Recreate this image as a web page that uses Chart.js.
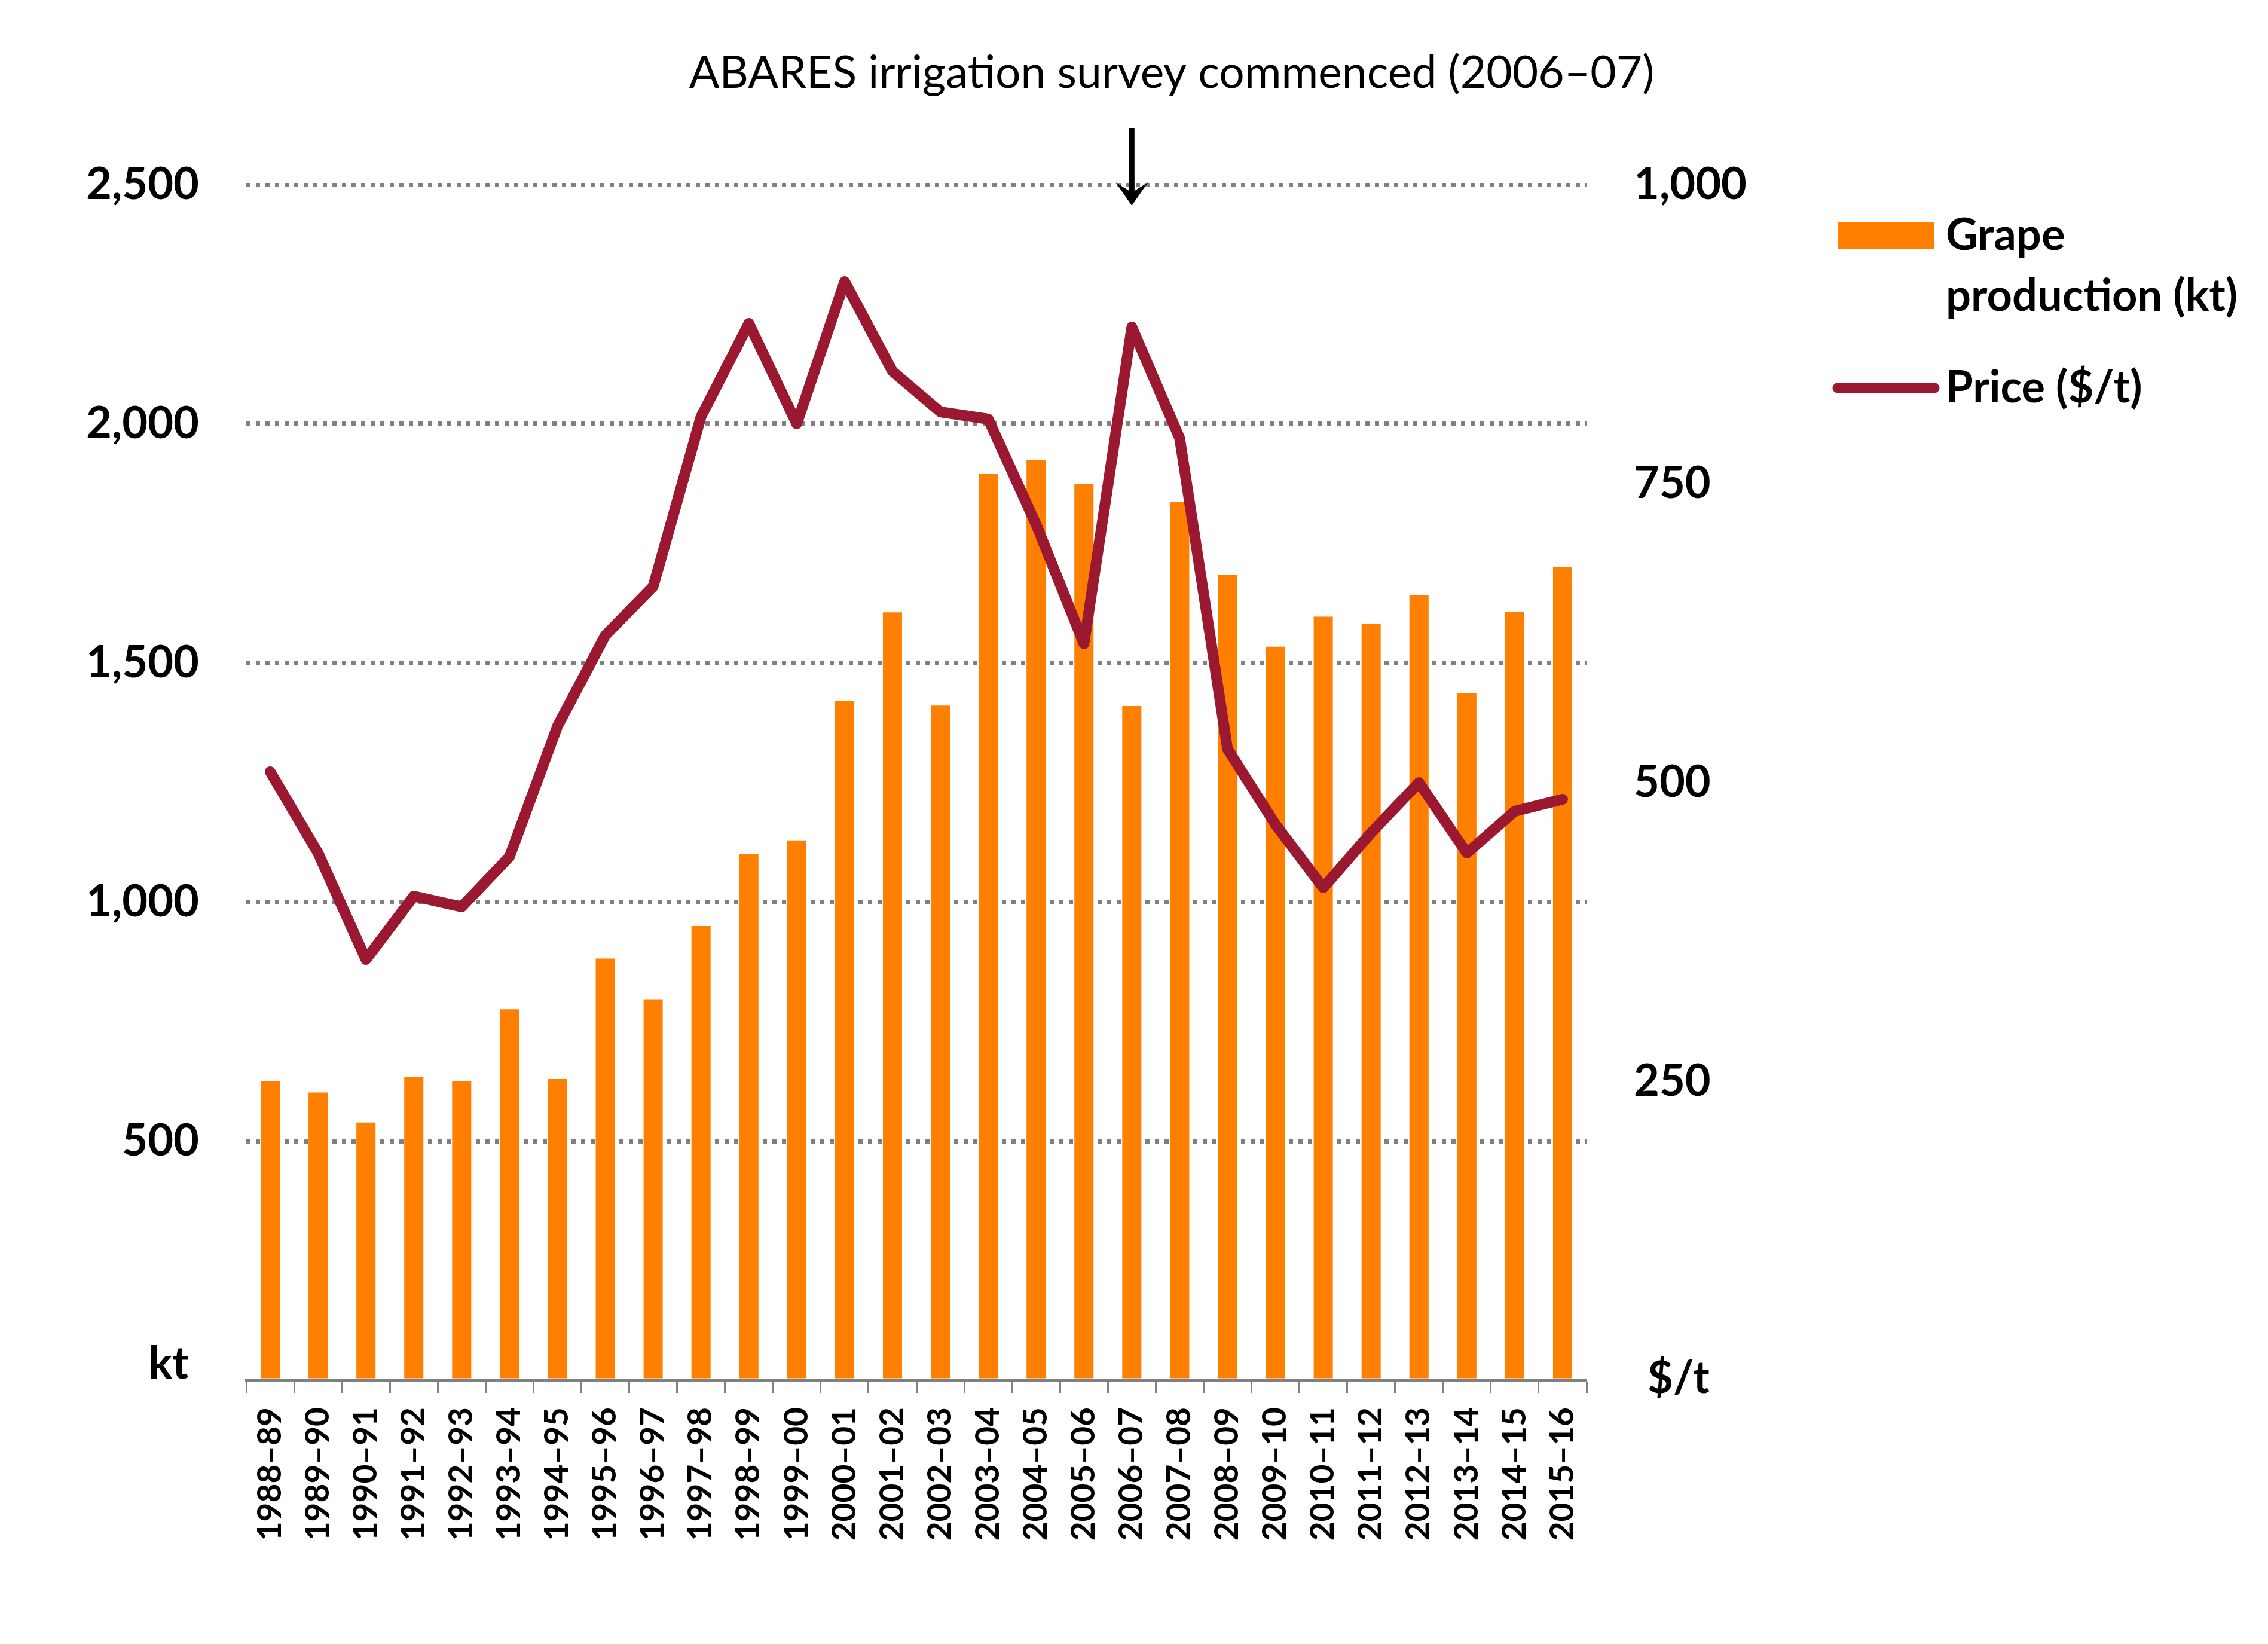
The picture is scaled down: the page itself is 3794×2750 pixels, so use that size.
<!DOCTYPE html>
<html>
<head>
<meta charset="utf-8">
<script src="https://cdn.jsdelivr.net/npm/chart.js@4.4.1/dist/chart.umd.min.js"></script>
<style>
    html, body { margin: 0; padding: 0; background: #fff; }
    #wrap { width: 3794px; height: 2750px; }
</style>
</head>
<body>
<div id="wrap"><canvas id="chart" width="3794" height="2750"></canvas></div>
<script>
const categories = ['1988–89', '1989–90', '1990–91', '1991–92', '1992–93', '1993–94', '1994–95',
    '1995–96', '1996–97', '1997–98', '1998–99', '1999–00', '2000–01', '2001–02', '2002–03',
    '2003–04', '2004–05', '2005–06', '2006–07', '2007–08', '2008–09', '2009–10', '2010–11',
    '2011–12', '2012–13', '2013–14', '2014–15', '2015–16'];

const production = [625, 602, 539, 635, 626, 776, 630, 882, 797, 950, 1101, 1129, 1421, 1606,
    1411, 1895, 1925, 1874, 1410, 1837, 1684, 1534, 1597, 1582, 1642, 1437, 1607, 1701];

const price = [509, 441, 352, 405, 396, 438, 547, 623, 664, 806, 884, 800, 919, 844, 810, 804,
    716, 616, 881, 788, 528, 465, 412, 458, 500, 441, 476, 486];

const leftTicks = [0, 500, 1000, 1500, 2000, 2500];
const rightTicks = [0, 250, 500, 750, 1000];

const annotationText = 'ABARES irrigation survey commenced (2006–07)';
const annotationCategory = '2006–07';

const ORANGE = '#FF7F00';
const WINE = '#9A1830';
const GREY = '#808080';
const FONT = 'Lato, "Open Sans", sans-serif';

const overlay = {
    id: 'overlay',
    afterDraw(chart) {
        const ctx = chart.ctx;
        const x = chart.scales.x;

        ctx.save();
        ctx.fillStyle = '#000';
        ctx.strokeStyle = '#000';

        // annotation + arrow
        ctx.font = '400 75px ' + FONT;
        ctx.textAlign = 'center';
        ctx.textBaseline = 'alphabetic';
        ctx.fillText(annotationText, 1960, 147);

        const ax = x.getPixelForValue(categories.indexOf(annotationCategory));
        ctx.lineWidth = 9;
        ctx.beginPath();
        ctx.moveTo(ax, 214);
        ctx.lineTo(ax, 330);
        ctx.stroke();
        ctx.beginPath();
        ctx.moveTo(ax, 344);
        ctx.lineTo(ax - 27, 305);
        ctx.lineTo(ax, 322);
        ctx.lineTo(ax + 27, 305);
        ctx.closePath();
        ctx.fill();

        // axis units
        ctx.font = '700 74px ' + FONT;
        ctx.textAlign = 'center';
        ctx.fillText('kt', 282, 2306);
        ctx.textAlign = 'left';
        ctx.fillText('$/t', 2756, 2330);

        // legend
        const ds = chart.data.datasets;
        const bar = ds.find(d => d.type === 'bar');
        const line = ds.find(d => d.type === 'line');

        ctx.fillStyle = bar.backgroundColor;
        ctx.fillRect(3075, 371, 160, 46);
        ctx.fillStyle = '#000';
        ctx.fillText('Grape', 3255, 418);
        ctx.fillText('production (kt)', 3255, 520);

        ctx.strokeStyle = line.borderColor;
        ctx.lineWidth = 17;
        ctx.lineCap = 'round';
        ctx.beginPath();
        ctx.moveTo(3074, 649);
        ctx.lineTo(3236, 649);
        ctx.stroke();
        ctx.fillText(line.label, 3255, 673);

        ctx.restore();
    }
};

new Chart(document.getElementById('chart'), {
    data: {
        labels: categories,
        datasets: [
            {
                type: 'line',
                label: 'Price ($/t)',
                data: price,
                yAxisID: 'yRight',
                borderColor: WINE,
                borderWidth: 18,
                borderJoinStyle: 'round',
                borderCapStyle: 'round',
                pointRadius: 0,
                tension: 0,
                order: 0
            },
            {
                type: 'bar',
                label: 'Grape production (kt)',
                data: production,
                yAxisID: 'y',
                backgroundColor: ORANGE,
                categoryPercentage: 1,
                barPercentage: 0.4,
                order: 1
            }
        ]
    },
    options: {
        responsive: false,
        devicePixelRatio: 1,
        animation: false,
        layout: { padding: { top: 309, left: 0, right: 0, bottom: 0 } },
        plugins: {
            legend: { display: false },
            tooltip: { enabled: false }
        },
        scales: {
            x: {
                type: 'category',
                offset: true,
                grid: {
                    offset: true,
                    drawOnChartArea: false,
                    drawTicks: true,
                    tickLength: 21,
                    tickWidth: 3,
                    tickColor: GREY
                },
                border: { display: true, color: GREY, width: 4 },
                ticks: {
                    autoSkip: false,
                    minRotation: 90,
                    maxRotation: 90,
                    padding: 24,
                    color: '#000',
                    font: { family: FONT, size: 55, weight: '700' }
                },
                afterFit(scale) { scale.height = 441; }
            },
            y: {
                position: 'left',
                min: 0,
                max: 2500,
                afterBuildTicks(scale) { scale.ticks = leftTicks.map(v => ({ value: v })); },
                grid: {
                    drawTicks: false,
                    lineWidth: 7,
                    color: c => (c.tick && c.tick.value === 0 ? 'rgba(0,0,0,0)' : GREY)
                },
                border: { display: false, dash: [7, 9] },
                ticks: {
                    padding: 79,
                    color: '#000',
                    font: { family: FONT, size: 74, weight: '700' },
                    callback: v => (v === 0 ? '' : v.toLocaleString('en-US'))
                },
                afterFit(scale) { scale.width = 412; }
            },
            yRight: {
                position: 'right',
                min: 0,
                max: 1000,
                afterBuildTicks(scale) { scale.ticks = rightTicks.map(v => ({ value: v })); },
                grid: { drawOnChartArea: false, drawTicks: false },
                border: { display: false },
                ticks: {
                    padding: 79,
                    color: '#000',
                    font: { family: FONT, size: 74, weight: '700' },
                    callback: v => (v === 0 ? '' : v.toLocaleString('en-US'))
                },
                afterFit(scale) { scale.width = 3794 - 2654; }
            }
        }
    },
    plugins: [overlay]
});
</script>
</body>
</html>
